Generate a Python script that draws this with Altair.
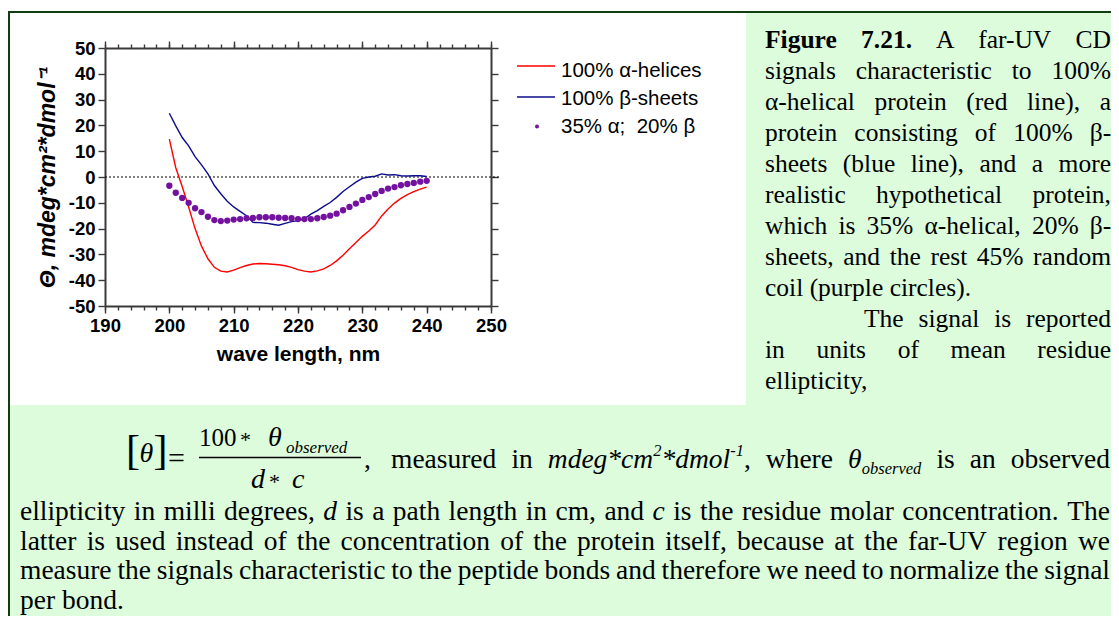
import altair as alt
import pandas as pd

# ------------------------------------------------------------------ data
wavelength = list(range(200, 241))
alpha_helix = [14.7, 3.6, -3.7, -11.6, -20.0, -26.8, -31.7, -35.0, -36.5, -36.8,
               -36.1, -35.1, -34.3, -33.7, -33.5, -33.6, -33.8, -34.0, -34.4, -35.0,
               -35.9, -36.5, -36.8, -36.4, -35.6, -34.3, -32.5, -30.3, -27.8, -25.4,
               -23.0, -20.9, -18.6, -15.1, -12.4, -10.1, -8.3, -6.8, -5.7, -4.7, -3.9]
beta_sheet = [24.7, 19.8, 15.3, 12.1, 7.9, 4.7, 1.2, -3.3, -6.5, -9.4,
              -11.6, -13.3, -15.0, -17.6, -17.7, -17.9, -18.3, -18.7, -18.0, -17.3,
              -16.9, -16.2, -14.4, -13.0, -11.4, -9.9, -7.9, -5.6, -3.8, -2.0,
              -0.5, 0.0, 0.3, 1.2, 0.8, 0.9, 0.5, 0.4, 0.5, 0.5, 0.2]
mixture = [-3.4, -6.1, -8.1, -10.0, -12.1, -13.6, -15.4, -16.7, -17.1, -16.9,
           -16.5, -16.3, -16.0, -15.9, -15.6, -15.6, -15.6, -15.8, -15.9, -16.0,
           -16.3, -16.3, -16.3, -16.0, -15.5, -15.0, -14.2, -12.9, -11.6, -10.3,
           -8.9, -7.8, -6.6, -5.4, -4.5, -3.9, -3.2, -2.7, -2.3, -1.8, -1.5]

legend_labels = ["100% α-helices", "100% β-sheets", "35% α;  20% β"]
x_major = list(range(190, 251, 10))
x_minor = list(range(190, 251, 2))
y_major = list(range(-50, 51, 10))
x_title = "wave length, nm"
y_title = "Θ, mdeg*cm²*dmol⁻¹"

caption_text = [
    "Figure 7.21. A far-UV CD",
    "signals characteristic to 100%",
    "α-helical protein (red line), a",
    "protein consisting of 100% β-",
    "sheets (blue line), and a more",
    "realistic hypothetical protein,",
    "which is 35% α-helical, 20% β-",
    "sheets, and the rest 45% random",
    "coil (purple circles).",
    "The signal is reported",
    "in units of mean residue",
    "ellipticity,",
]
bottom_text = [
    "ellipticity in milli degrees, _d is a path length in cm, and _c is the residue molar concentration. The",
    "latter is used instead of the concentration of the protein itself, because at the far-UV region we",
    "measure the signals characteristic to the peptide bonds and therefore we need to normalize the signal",
    "per bond.",
]
formula_tail = ["measured", "in", "MDEG", "where", "THETAOBS", "is", "an", "observed"]

# ------------------------------------------------------------------ style / layout
RED, BLUE, PURPLE = "#ff0000", "#0c0c8a", "#7412a0"
AX = "#3a3a3a"
SANS, SERIF = "Liberation Sans", "Liberation Serif"
PANEL, BORDER = "#dcfcdc", "#103e10"
OX, OY = 105, 48          # page position of the plot origin
W, H = 386, 258
SVG_W, SVG_H = 1103, 608  # whole chart, so that the page does not overflow


def rx(px):
    return px - OX


def ry(py):
    return py - OY


# approximate Times glyph widths (per 1000 em)
TR = dict(zip("abcdefghijklmnopqrstuvwxyz",
              [444, 500, 444, 500, 444, 333, 500, 500, 278, 278, 500, 278, 778, 500, 500, 500, 500,
               333, 389, 278, 500, 500, 722, 500, 500, 444]))
TR.update(zip("ABCDEFGHIJKLMNOPQRSTUVWXYZ",
              [722, 667, 667, 722, 611, 556, 722, 722, 333, 389, 722, 611, 889, 722, 722, 556, 722,
               667, 556, 611, 722, 722, 944, 722, 722, 611]))
TR.update({c: 500 for c in "0123456789"})
TR.update({" ": 250, "%": 833, "(": 333, ")": 333, ",": 250, ".": 250, "-": 333, "*": 500,
           "[": 333, "]": 333, "=": 564, ";": 278, ":": 278, "α": 530, "β": 500, "θ": 500})
TI = dict(zip("abcdefghijklmnopqrstuvwxyz",
              [500, 500, 444, 500, 444, 278, 500, 500, 278, 278, 444, 278, 722, 500, 500, 500, 500,
               389, 389, 278, 500, 444, 667, 444, 444, 389]))
TI.update({c: 500 for c in "0123456789"})
TI.update({"*": 500, ",": 250, "-": 333, "θ": 500, " ": 250})
TB = dict(zip("abcdefghijklmnopqrstuvwxyz",
              [500, 556, 444, 556, 444, 333, 500, 556, 278, 333, 556, 278, 833, 556, 500, 556, 556,
               444, 389, 333, 556, 500, 722, 500, 500, 444]))
TB.update({c: 500 for c in "0123456789"})
TB.update({"F": 611, ".": 250, " ": 250})
TABLES = {"r": TR, "i": TI, "b": TB}


def run_width(text, style):
    t = TABLES[style]
    return sum(t.get(ch, 500) for ch in text) / 1000.0


def as_word(w):
    if isinstance(w, list):
        return w
    if w == "MDEG":
        return [("mdeg*cm", "i", 1.0, 0.0), ("2", "i", 0.6, -0.42), ("*dmol", "i", 1.0, 0.0),
                ("-1", "i", 0.6, -0.42), (",", "r", 1.0, 0.0)]
    if w == "THETAOBS":
        return [("θ", "i", 1.0, 0.0), ("observed", "i", 0.6, 0.22)]
    if w.startswith("_"):
        return [(w[1:], "i", 1.0, 0.0)]
    return [(w, "r", 1.0, 0.0)]


def word_width(word, size):
    return sum(run_width(t, st) * size * sc for t, st, sc, sh in word)


def words_em(words):
    return sum(word_width(as_word(w), 1.0) for w in words)


def place_line(words, x0, x1, base, size, justify, rows):
    words = [as_word(w) for w in words]
    ws = [word_width(w, size) for w in words]
    gap = 0.25 * size
    if justify and len(words) > 1:
        gap = (x1 - x0 - sum(ws)) / (len(words) - 1)
    x = x0
    for w, wd in zip(words, ws):
        cx = x
        for t, st, sc, sh in w:
            rows[st].append({"px": rx(cx), "py": ry(base + sh * size), "t": t, "fs": size * sc})
            cx += run_width(t, st) * size * sc
        x += wd + gap


rows = {"r": [], "i": [], "b": []}

# caption (right panel)
CAP_SIZE = 25.5
for i, line in enumerate(caption_text):
    words = line.split()
    if i == 0:
        words = [[("Figure", "b", 1.0, 0.0)], [("7.21.", "b", 1.0, 0.0)]] + words[2:]
    x0 = 864 if i == 9 else 765
    justify = i not in (8, 11)
    place_line(words, x0, 1111, 48.3 + 31 * i, CAP_SIZE, justify, rows)

# bottom paragraph
bottom_words = [ln.split() for ln in bottom_text]
fit = min(1090.0 / (words_em(w) + 0.21 * (len(w) - 1)) for w in bottom_words[:3])
BOT_SIZE = min(28.0, fit)
for i, words in enumerate(bottom_words):
    place_line(words, 20, 1110, 520 + 29.7 * i, BOT_SIZE, i < 3, rows)
place_line(formula_tail, 391, 1110, 468, BOT_SIZE, True, rows)

# formula glyphs
formula = [("[", "r", 42, 126, 464), ("θ", "i", 28, 139.5, 462), ("]", "r", 42, 153.5, 464),
           ("=", "r", 30, 168, 468), ("100", "r", 25, 199, 446), ("*", "r", 22, 240, 447),
           ("θ", "i", 28, 268, 446), ("observed", "i", 17, 286, 453),
           ("d", "i", 28, 251, 488), ("*", "r", 22, 269, 489), ("c", "i", 28, 292, 488),
           (",", "r", BOT_SIZE, 364, 468)]
for t, st, fs, x, y in formula:
    rows[st].append({"px": rx(x), "py": ry(y), "t": t, "fs": fs})

# ------------------------------------------------------------------ chart
df = pd.DataFrame({"wl": wavelength, "helix": alpha_helix, "sheet": beta_sheet, "mix": mixture})
one = pd.DataFrame({"k": [0]})
xscale = alt.Scale(domain=[190, 250], nice=False, zero=False)
yscale = alt.Scale(domain=[-50, 50], nice=False, zero=False)


def axis(orient, values, tick, labels=False, domain=True, title=None, **extra):
    a = dict(orient=orient, values=values, tickSize=tick, tickWidth=1.4, tickColor=AX,
             domain=domain, domainColor=AX, domainWidth=2, labels=labels, grid=False,
             title=title)
    if labels:
        a.update(labelFont=SANS, labelFontWeight="bold", labelFontSize=18.5, labelColor="black",
                 labelFlush=False, labelOverlap=False)
    if title:
        a.update(titleFont=SANS, titleFontWeight="bold", titleFontSize=21, titleColor="black")
    a.update(extra)
    return alt.Axis(**a)


ax_bottom = axis("bottom", x_major, 7, labels=True, title=x_title, labelPadding=3, titlePadding=9)
ax_bottom_minor = axis("bottom", x_minor, 4, domain=False)
ax_top = axis("top", x_major, 7)
ax_top_minor = axis("top", x_minor, 4, domain=False)
ax_left = axis("left", y_major, 7, labels=True, title=y_title, labelPadding=3, titlePadding=9,
               titleFontStyle="italic", titleFontSize=23, labelExpr="datum.value + ''")
ax_right = axis("right", y_major, 7)


def rect(x0, x1, y0, y1, color):
    return alt.Chart(one).mark_rect(color=color, opacity=1).encode(
        x=alt.value(rx(x0)), x2=alt.value(rx(x1)), y=alt.value(ry(y0)), y2=alt.value(ry(y1)))


PAGE_R, PAGE_B = 8 + SVG_W, 8 + SVG_H
backgrounds = [
    rect(746, PAGE_R, 13, 405, PANEL),
    rect(8, PAGE_R, 405, PAGE_B, PANEL),
    rect(8, 10, 11, PAGE_B, BORDER),
    rect(8, PAGE_R, 11, 13, BORDER),
]

zero = alt.Chart(pd.DataFrame({"v": [0]})).mark_rule(
    color="black", strokeDash=[2, 2], strokeWidth=1.2).encode(
    y=alt.Y("v:Q", scale=yscale, axis=None), x=alt.value(0), x2=alt.value(W + 8))

red = alt.Chart(df).mark_line(color=RED, strokeWidth=1.4).encode(
    x=alt.X("wl:Q", scale=xscale, axis=ax_bottom),
    y=alt.Y("helix:Q", scale=yscale, axis=ax_left))
blue = alt.Chart(df).mark_line(color=BLUE, strokeWidth=1.4).encode(
    x=alt.X("wl:Q", scale=xscale, axis=ax_top),
    y=alt.Y("sheet:Q", scale=yscale, axis=ax_right))
dots = alt.Chart(df).mark_circle(color=PURPLE, size=40, opacity=1).encode(
    x=alt.X("wl:Q", scale=xscale, axis=ax_bottom_minor),
    y=alt.Y("mix:Q", scale=yscale, axis=None))
ghost = alt.Chart(df).mark_point(opacity=0).encode(
    x=alt.X("wl:Q", scale=xscale, axis=ax_top_minor),
    y=alt.Y("mix:Q", scale=yscale, axis=None))

# legend
leg_red = alt.Chart(one).mark_rule(color=RED, strokeWidth=1.3).encode(
    x=alt.value(rx(517)), x2=alt.value(rx(555)), y=alt.value(ry(66)))
leg_blue = alt.Chart(one).mark_rule(color=BLUE, strokeWidth=1.3).encode(
    x=alt.value(rx(517)), x2=alt.value(rx(555)), y=alt.value(ry(97)))
leg_dot = alt.Chart(one).mark_circle(color=PURPLE, size=16, opacity=1).encode(
    x=alt.value(rx(537)), y=alt.value(ry(126.5)))
leg_rows = [{"px": rx(561), "py": ry(b), "t": t.replace("  ", "\u00a0 "), "fs": 20.5}
            for t, b in zip(legend_labels, [77, 105, 133])]


def text_layer(data, font, style="normal", weight="normal"):
    return alt.Chart(pd.DataFrame(data)).mark_text(
        font=font, fontStyle=style, fontWeight=weight, align="left",
        baseline="alphabetic", color="black").encode(
        x=alt.X("px:Q", scale=None, axis=None),
        y=alt.Y("py:Q", scale=None, axis=None),
        text="t:N",
        size=alt.Size("fs:Q", scale=None, legend=None))


fraction_bar = alt.Chart(one).mark_rule(color="black", strokeWidth=1.5).encode(
    x=alt.value(rx(199)), x2=alt.value(rx(361)), y=alt.value(ry(457.5)))

layers = backgrounds + [zero, red, blue, dots, ghost, leg_red, leg_blue, leg_dot,
                        text_layer(leg_rows, SANS),
                        text_layer(rows["r"], SERIF),
                        text_layer(rows["i"], SERIF, style="italic"),
                        text_layer(rows["b"], SERIF, weight="bold"),
                        fraction_bar]

chart = alt.layer(*layers).resolve_axis(x="independent", y="independent").properties(
    width=W, height=H,
    autosize=alt.AutoSizeParams(type="none"),
    padding={"left": OX - 8, "top": OY - 8,
             "right": SVG_W - (OX - 8) - W, "bottom": SVG_H - (OY - 8) - H},
    background="white",
).configure_view(stroke=None)

chart.save("out.html", embed_options={"renderer": "svg", "actions": False})
